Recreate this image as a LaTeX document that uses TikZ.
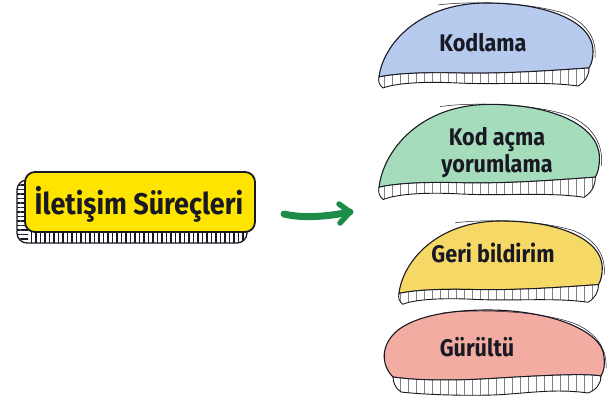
\documentclass[tikz,border=0pt]{standalone}
\usepackage{fontspec}
\setmainfont{Fira Sans}
\newfontfamily\handfont{Fira Sans}[FakeStretch=0.9]
\usetikzlibrary{patterns.meta}
\definecolor{boxyellow}{RGB}{255,228,0}
\definecolor{bblue}{RGB}{182,202,238}
\definecolor{bgreen}{RGB}{165,220,188}
\definecolor{byellow}{RGB}{246,216,102}
\definecolor{bpink}{RGB}{242,172,162}
\definecolor{arrowgreen}{RGB}{28,140,72}
\definecolor{ink}{RGB}{25,25,35}
\tikzset{
  outline/.style={draw=ink, line width=1.1pt},
  bandstyle/.style={draw=ink, line width=0.9pt, preaction={fill=white},
    pattern={Lines[angle=90,distance=8pt,line width=0.6pt]}, pattern color=ink!55},
  bubbletext/.style={font=\handfont\bfseries\fontsize{24}{27}\selectfont, text=ink, align=center, inner sep=0pt},
  titletext/.style={font=\handfont\bfseries\fontsize{30}{32}\selectfont, text=ink, inner sep=0pt},
  greenarrow/.style={draw=arrowgreen, line cap=round, line join=round},
}
\newcommand\pointybubble[2]{%
\begin{scope}[#2]
\path[outline, fill=#1] (1,77) .. controls (5,45) and (40,3) .. (109,3) .. controls (170,3) and (214,22) .. (215,50) .. controls (215,58) and (214,63) .. (211,68) .. controls (180,70) and (130,74) .. (80,73) .. controls (40,72) and (15,74) .. (1,77) -- cycle;
\draw[ink, line width=0.5pt] (60,5) .. controls (90,1) and (150,2) .. (185,13) .. controls (208,22) and (219,38) .. (217,58);
\path[bandstyle] (1,77) .. controls (15,74) and (40,72) .. (80,73) .. controls (130,74) and (180,70) .. (211,68) .. controls (211,76) and (207,82) .. (200,86) .. controls (165,81) and (120,85) .. (80,83) .. controls (40,81) and (15,84) .. (5,88) .. controls (1,85) and (0,81) .. (1,77) -- cycle;
\end{scope}}
\newcommand\roundbubble[2]{%
\begin{scope}[#2]
\path[outline, fill=#1] (10,67) .. controls (-2,55) and (-3,35) .. (15,20) .. controls (35,5) and (70,0) .. (105,0) .. controls (165,0) and (220,20) .. (221,47) .. controls (222,55) and (221,61) .. (218,66) .. controls (200,63) and (150,66) .. (100,69) .. controls (60,71) and (30,70) .. (10,67) -- cycle;
\draw[ink, line width=0.5pt] (60,3) .. controls (90,-1) and (160,0) .. (195,15) .. controls (215,25) and (224,40) .. (223,58);
\path[bandstyle] (10,67) .. controls (30,70) and (60,71) .. (100,69) .. controls (150,66) and (200,63) .. (218,66) .. controls (218,74) and (213,80) .. (205,83) .. controls (170,78) and (140,84) .. (110,85) .. controls (70,86) and (35,84) .. (18,82) .. controls (12,78) and (10,72) .. (10,67) -- cycle;
\end{scope}}
\begin{document}
\begin{tikzpicture}[x=1pt,y=-1pt]
\useasboundingbox (0,0) rectangle (616,401);
% title box shadow
\begin{scope}
\clip[rounded corners=10pt] (17,180) rectangle (247,243);
\fill[white] (10,170) rectangle (260,250);
\fill[pattern={Lines[angle=90,distance=4.5pt,line width=1.5pt]}, pattern color=ink] (28,175) rectangle (255,250);
\fill[pattern={Lines[angle=0,distance=4.5pt,line width=1.5pt]}, pattern color=ink] (10,175) rectangle (28,250);
\end{scope}
\draw[ink, line width=1.3pt, rounded corners=10pt] (17,180) rectangle (247,243);
% title box
\draw[fill=boxyellow, draw=ink, line width=1.8pt, rounded corners=10pt] (25,172) rectangle (255,232);
\node[titletext] (title) at (139,204) {İletişim Süreçleri};
% arrow
\coordinate (astart) at (284,214);
\coordinate (aend) at (350,212);
\draw[greenarrow, line width=7pt] (astart) .. controls (305,219) and (330,216) .. (aend);
\draw[greenarrow, line width=5.5pt] ([shift={(-11,-8)}]aend) -- (aend) -- ([shift={(-10,11)}]aend);
% bubbles
\pointybubble{bblue}{shift={(378,0)}}
\pointybubble{bgreen}{shift={(378,101)}, xscale=1.03, yscale=1.12}
\pointybubble{byellow}{shift={(398,218)}, xscale=0.95, yscale=0.98}
\roundbubble{bpink}{shift={(383,310)}}
\node[bubbletext] (kod) at (483,43) {Kodlama};
\node[bubbletext] (kodacma) at (497,153) {Kod açma\\yorumlama};
\node[bubbletext] (geri) at (493,253) {Geri bildirim};
\node[bubbletext] (gurultu) at (477,347) {Gürültü};
\end{tikzpicture}
\end{document}
